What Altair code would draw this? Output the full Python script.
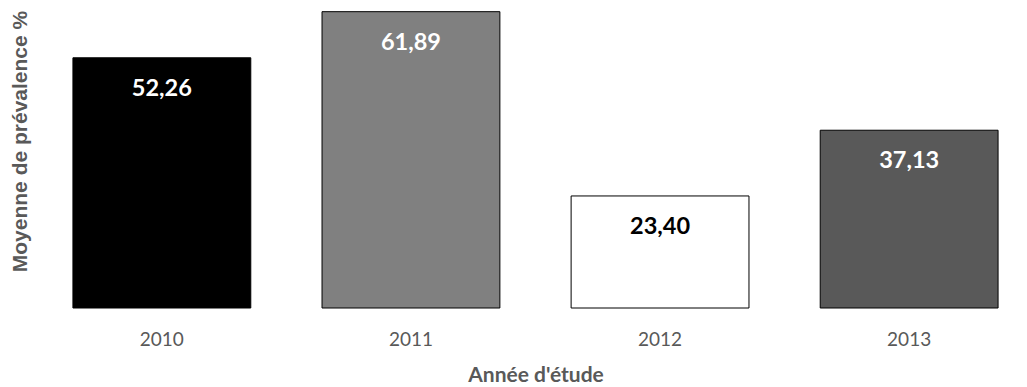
import altair as alt
import pandas as pd

years = ["2010", "2011", "2012", "2013"]
values = [52.26, 61.89, 23.40, 37.13]
fills = ["#000000", "#808080", "#ffffff", "#595959"]
label_colors = ["#ffffff", "#ffffff", "#000000", "#ffffff"]

df = pd.DataFrame({"year": years, "value": values, "fill": fills, "lc": label_colors})

FONT = "Lato"
x = alt.X("year:N", sort=years,
          scale=alt.Scale(paddingInner=0.286, paddingOuter=0.08),
          axis=alt.Axis(title="Année d'étude", labelAngle=0, ticks=False, domain=False,
                        labelFontSize=19, labelColor="#595959", labelPadding=31,
                        labelBaseline="middle",
                        labelFont=FONT, titleFont=FONT, titleFontSize=21,
                        titleFontWeight="bold", titleColor="#595959",
                        titleBaseline="alphabetic", titleY=73))
y = alt.Y("value:Q", scale=alt.Scale(domain=[0, 62.66], nice=False),
          axis=alt.Axis(title="Moyenne de prévalence %", labels=False, ticks=False,
                        domain=False, grid=False, titleFont="Liberation Sans",
                        titleFontSize=21, titleFontWeight="bold", titleColor="#595959",
                        titleX=-33, titleY=133, titleAngle=-90, titleAlign="center",
                        titleBaseline="middle"))

bars = alt.Chart(df).mark_bar(stroke="#000000", strokeWidth=1).encode(
    x=x, y=y, fill=alt.Fill("fill:N", scale=None))

text = alt.Chart(df).transform_calculate(
    lab="replace(format(datum.value, '.2f'), '.', ',')"
).mark_text(baseline="middle", dy=31, fontSize=23.5, fontWeight="bold", font=FONT).encode(
    x=alt.X("year:N", sort=years), y="value:Q", text="lab:N",
    color=alt.Color("lc:N", scale=None))

chart = (bars + text).properties(
    width=965, height=300,
    autosize=alt.AutoSizeParams(type="none"),
    padding={"left": 45, "top": 0, "right": 0, "bottom": 79},
).configure_view(stroke=None)
chart.save("out.html", embed_options={"renderer": "svg", "actions": False})
